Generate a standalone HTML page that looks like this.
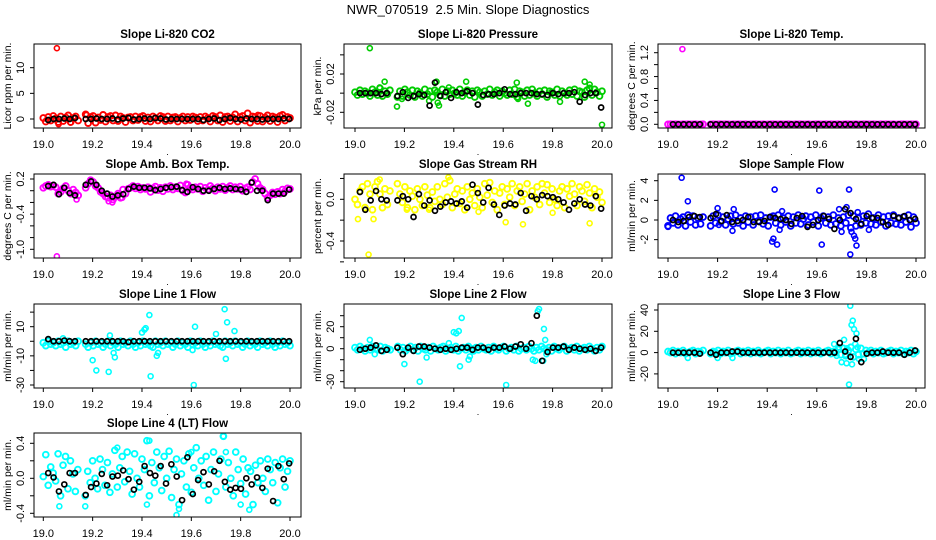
<!DOCTYPE html>
<html><head><meta charset="utf-8"><style>
html,body{margin:0;padding:0;background:#fff}
svg{display:block;font-family:"Liberation Sans",Arial,sans-serif}
</style></head><body>
<svg id="chart" width="936" height="540" viewBox="0 0 936 540">
<text x="468" y="14" text-anchor="middle" font-size="13" style="white-space:pre">NWR_070519  2.5 Min. Slope Diagnostics</text>
</svg>
<script>
// ---- data ----
const co2Band=[0.2,-0.5,0.4,-0.3,0.6,0.1,-0.6,0.5,-0.4,0.3,0.7,-0.6,0.2,0.5,-0.3,null,null,0.9,-0.8,0.4,0.6,-0.7,0.3,-0.2,0.8,-0.5,0.4,0.6,-0.3,0.7,-0.4,0.5,0.2,-0.6,0.3,0.4,-0.3,0.5,-0.2,0.4,0.6,-0.4,0.3,-0.5,0.5,0.2,-0.3,0.6,0.4,-0.4,0.5,-0.3,0.3,0.4,-0.5,0.2,0.5,-0.3,0.4,-0.2,0.5,0.3,-0.4,0.4,-0.3,0.5,0.2,-0.5,0.6,0.4,-0.3,0.7,-0.6,0.4,0.5,-0.4,0.3,0.9,-0.5,0.4,0.6,-0.3,1.1,-0.7,0.5,0.4,-0.4,0.6,-0.5,0.3,0.7,-0.4,0.5,0.3,-0.6,0.6,0.8,-0.3,0.4,0.2];
const co2OutT=[19.055,19.062,19.11,19.175,19.87];
const co2OutV=[13.8,-1.0,-0.7,0.8,0.8];
const co2Black=[-0.2,0.0,0.0,0.1,0.0,0.2,null,0.0,0.0,0.1,0.0,0.0,0.1,-0.1,0.1,0.2,-0.1,0.0,0.1,0.0,0.2,0.1,-0.1,0.0,0.0,0.0,0.0,0.0,0.0,-0.2,0.0,0.1,-0.2,0.0,0.2,0.0,-0.1,0.1,0.0,0.0,-0.1,0.0,0.0,0.0,0.1,0.0];

const presBand=[0.001,-0.002,0.003,-0.001,0.002,0.000,-0.003,0.004,0.001,-0.002,0.005,-0.003,0.002,-0.001,0.003,null,null,-0.004,0.002,-0.003,0.004,0.001,-0.002,0.003,-0.004,0.002,0.000,-0.003,0.004,-0.001,0.002,-0.004,0.003,0.001,-0.002,0.004,-0.003,0.002,-0.001,0.003,0.000,-0.002,0.004,-0.003,0.001,0.003,-0.002,0.002,-0.004,0.003,0.001,-0.003,0.002,-0.001,0.004,-0.002,0.001,0.003,-0.003,0.002,0.000,-0.002,0.003,-0.001,0.004,-0.004,0.002,0.001,-0.003,0.003,-0.002,0.004,0.000,-0.003,0.002,-0.001,0.003,-0.004,0.002,0.001,-0.002,0.004,-0.003,0.002,0.000,-0.002,0.003,-0.001,0.004,-0.003,0.002,0.001,-0.004,0.003,0.005,-0.002,0.004,0.001,-0.003,0.002];
const presOutT=[19.06,19.12,19.17,19.33,19.335,19.34,19.45,19.655,19.7,19.83,19.93,19.95,20.0,19.3,19.1,19.19,19.38,19.66];
const presOutV=[0.047,0.012,-0.014,0.012,-0.010,-0.013,0.012,0.011,-0.011,-0.009,0.012,0.009,-0.033,-0.008,0.006,-0.006,0.006,-0.006];
const presBlack=[0.000,0.000,0.000,0.000,-0.001,0.000,null,-0.003,0.001,-0.005,-0.003,-0.001,-0.002,-0.013,0.011,-0.003,0.001,-0.005,0.001,0.000,0.002,0.000,-0.012,-0.002,-0.001,-0.001,0.000,0.004,-0.001,-0.001,0.000,0.000,0.000,-0.001,-0.001,-0.002,0.000,-0.001,0.000,0.000,0.001,-0.009,-0.002,0.000,0.000,-0.015];

const tempBand=[0.000,0.002,-0.001,0.001,0.000,-0.002,0.001,0.000,0.002,-0.001,0.000,0.001,-0.002,0.000,0.001,null,null,0.000,0.002,-0.001,0.000,0.001,-0.001,0.002,0.000,-0.002,0.001,0.000,0.002,-0.001,0.000,0.001,-0.002,0.000,0.001,0.002,-0.001,0.000,0.001,-0.002,0.000,0.002,0.001,-0.001,0.000,0.002,-0.001,0.000,0.001,0.000,-0.002,0.001,0.000,0.002,-0.001,0.000,0.001,-0.002,0.000,0.001,0.002,-0.001,0.000,0.001,0.000,0.002,-0.001,0.000,0.001,-0.002,0.000,0.001,0.002,-0.001,0.000,0.001,-0.002,0.000,0.001,0.002,-0.001,0.000,0.001,0.000,-0.002,0.001,0.000,0.002,-0.001,0.000,0.001,-0.002,0.000,0.001,0.002,-0.001,0.000,0.001,0.000,0.001];
const tempOutT=[19.058];
const tempOutV=[1.26];
const tempBlack=[0,0,0,0,0,0,null,0,0,0,0,0,0,0,0,0,0,0,0,0,0,0,0,0,0,0,0,0,0,0,0,0,0,0,0,0,0,0,0,0,0,0,0,0,0,0];

const ambBand=[0.05,0.08,0.1,0.07,0.09,0.06,-0.05,-0.02,0.04,0.08,0.0,-0.05,0.02,-0.03,-0.08,null,null,0.05,0.12,0.18,0.15,0.08,0.05,-0.02,-0.05,-0.1,-0.12,-0.08,-0.15,-0.1,-0.05,-0.12,0.02,-0.05,0.03,0.05,0.08,0.04,0.07,0.02,0.05,0.03,0.06,-0.02,0.04,0.07,0.01,0.05,-0.01,0.06,0.03,0.08,0.02,0.06,0.04,0.09,0.0,-0.03,0.1,0.05,0.02,0.06,0.03,0.07,-0.01,0.05,0.02,0.08,0.04,0.0,0.06,0.03,0.07,0.01,0.05,0.08,0.02,0.06,0.03,0.07,0.0,0.04,0.06,0.02,0.15,0.2,0.12,0.05,0.02,-0.05,-0.12,-0.08,-0.03,-0.06,-0.02,-0.05,0.02,-0.01,0.04,0.03];
const ambOutT=[19.055,19.135,19.28,19.58,19.265,19.32];
const ambOutV=[-1.12,-0.15,-0.2,0.12,-0.18,-0.12];
const ambBlack=[0.08,0.1,-0.06,0.05,-0.04,-0.08,null,0.1,0.16,0.1,0.0,-0.05,-0.1,-0.08,-0.06,0.03,0.07,0.05,0.05,0.04,0.01,0.03,0.05,0.06,0.07,0.01,-0.02,0.06,0.03,0.0,0.0,0.03,0.05,0.03,0.04,0.03,0.02,-0.02,0.14,0.0,0.0,-0.16,-0.05,-0.05,-0.05,0.02];

const rhBand=[0.0,-0.05,0.08,0.12,-0.08,0.15,0.05,-0.1,0.12,0.17,0.05,-0.08,0.1,-0.05,0.08,null,null,0.15,0.05,-0.03,0.12,-0.08,0.08,0.03,-0.1,0.1,0.0,-0.06,0.12,0.04,-0.08,0.07,-0.02,0.12,0.0,-0.05,0.15,0.02,0.18,-0.08,0.05,0.1,-0.04,0.08,-0.1,0.12,0.0,0.06,-0.06,0.1,0.02,-0.08,0.15,0.04,0.16,-0.03,0.08,-0.1,0.06,0.12,-0.05,0.1,0.02,0.15,-0.06,0.08,0.12,-0.02,0.05,0.15,-0.1,0.08,0.02,0.12,-0.05,0.15,0.06,0.14,-0.03,0.1,0.0,-0.06,0.08,0.12,-0.08,0.1,0.03,0.15,0.05,-0.06,0.12,0.08,-0.02,0.14,0.06,-0.08,0.1,0.02,0.07,-0.03];
const rhOutT=[19.055,19.012,19.075,19.378,19.68,19.95,19.61,19.10,19.21,19.3,19.5,19.8];
const rhOutV=[-0.53,-0.19,-0.19,0.21,-0.24,-0.23,-0.22,0.19,-0.1,-0.1,-0.12,-0.13];
const rhBlack=[0.07,-0.1,-0.01,0.08,0.0,-0.01,null,-0.01,0.03,0.0,-0.17,0.05,-0.06,-0.01,-0.11,-0.07,-0.03,-0.02,-0.04,-0.02,-0.08,0.14,0.06,-0.03,0.11,-0.05,-0.15,-0.06,-0.04,-0.05,0.06,-0.11,0.03,0.0,0.04,0.03,0.02,0.0,-0.03,-0.1,-0.04,0.0,-0.05,-0.06,0.03,-0.09];

const sampBand=[-0.6,0.2,-0.3,0.4,-0.5,0.1,0.3,-0.6,0.5,-0.2,0.4,-0.5,0.2,-0.4,0.3,null,null,-0.6,0.4,-0.3,0.5,-0.2,0.3,-0.5,0.1,0.4,-0.4,0.5,-0.3,0.2,-0.6,0.4,-0.2,0.3,-0.5,0.4,-0.1,0.5,-0.4,0.2,-0.6,0.3,0.4,-0.3,0.5,-0.5,0.2,-0.2,0.4,-0.6,0.3,-0.3,0.5,-0.4,0.1,0.4,-0.5,0.3,-0.2,0.5,-0.6,0.2,0.4,-0.3,0.3,-0.5,0.5,-0.4,0.2,-0.6,0.3,-0.3,0.5,-0.8,0.4,-0.6,0.2,-0.5,0.4,-0.3,0.6,-0.4,0.2,-0.5,0.5,-0.2,0.3,-0.6,0.4,-0.3,0.5,-0.4,0.2,-0.5,0.3,-0.2,0.5,-0.7,0.3,-0.3];
const sampOutT=[19.055,19.08,19.2,19.205,19.26,19.265,19.42,19.425,19.43,19.44,19.45,19.46,19.61,19.62,19.69,19.70,19.72,19.73,19.735,19.75,19.755,19.76,19.81,19.74,19.765,19.0];
const sampOutV=[4.3,1.9,1.2,-0.5,-1.1,1.1,-2.2,-1.9,3.1,-2.5,-1.0,0.9,3.0,-2.5,1.1,-1.2,1.3,3.1,-3.5,-1.6,-1.9,-2.6,-1.0,-1.2,0.8,-0.7];
const sampBlack=[0.0,-0.2,-0.1,0.3,0.4,0.3,null,0.2,0.6,-0.1,0.5,-0.2,-0.1,0.0,0.3,-0.2,-0.2,-0.1,0.3,0.2,0.1,0.0,-0.4,0.2,0.4,-0.7,-0.5,0.0,0.4,0.1,-0.9,0.0,1.1,0.7,0.1,-0.4,0.4,0.2,0.2,-0.2,-0.5,0.4,0.2,0.4,0.0,0.1];

const l1Band=[-1,-3,0,-2,-1,-3,0,-2,-1,-4,0,-2,-1,-3,0,null,null,-2,-4,-1,-3,0,-2,-1,-4,-2,0,-3,-1,-2,-4,0,-2,-1,-3,0,-2,-4,-1,-3,0,-2,-1,-3,-4,0,-2,-1,-3,0,-2,-1,-4,-2,0,-3,-1,-2,-4,0,-2,-1,-3,0,-2,-4,-1,-3,0,-2,-1,-3,-4,0,-2,-1,-3,0,-2,-1,-4,-2,0,-3,-1,-2,-4,0,-2,-1,-3,0,-2,-4,-1,-3,0,-2,-1,-3];
const l1OutT=[19.2,19.215,19.265,19.27,19.285,19.29,19.4,19.41,19.415,19.43,19.435,19.46,19.465,19.61,19.615,19.7,19.735,19.74,19.745,19.775,19.605,19.08];
const l1OutV=[-13,-20,-21,4,-8,-11,6,8,9,18,-24,-10,-8,-30,10,5,22,-12,13,7,-6,2];
const l1Black=[1.5,0,0,0.5,0,0,null,0,0,0,0,0,0,0,0,-0.5,0,0,0,0,0,0,0,0,0,0,0,0,0,0,0,0,0,0,0,0,0,0,0,0,0,0,0,0,0,0];

const l2Band=[1,-1,2,0,-2,1,-1,2,0,-1,2,-2,1,0,-1,null,null,2,-1,1,-2,0,2,-1,1,-2,2,0,-1,1,-2,2,0,-1,1,2,-2,0,1,-1,2,-2,0,1,-1,2,0,-2,1,-1,2,0,-1,1,-2,2,0,-1,1,2,-2,0,1,-1,2,-2,0,1,-1,2,0,-2,1,-1,2,0,-1,1,-2,2,0,-1,1,2,-2,0,1,-1,2,-2,0,1,-1,2,0,-2,1,-1,2];
const l2OutT=[19.06,19.2,19.262,19.29,19.40,19.41,19.42,19.425,19.432,19.46,19.465,19.612,19.72,19.73,19.74,19.745,19.762,19.765,19.77,19.775,19.08,19.38];
const l2OutV=[8,-14,-30,-8,15,14,16,-16,28,-10,-7,-33,-10,-11,34,36,-11,18,8,-5,-5,5];
const l2Black=[-1,0,1,3,-2,-1,null,1,-5,1,-2,2,2,1,0,-1,0,-1,0,1,1,-1,1,1,-1,1,1,2,0,2,4,0,5,30,-11,-3,1,1,2,-1,1,0,-1,0,-2,1];

const l3Band=[1,0,2,-1,1,0,2,-1,0,1,2,-1,1,0,2,null,null,-1,1,0,2,-1,1,0,2,-1,0,1,2,-1,1,0,2,-1,1,0,2,-1,0,1,2,-1,1,0,2,-1,1,0,2,-1,0,1,2,-1,1,0,2,-1,1,0,2,-1,0,1,2,-1,1,0,3,-2,4,-3,2,5,-4,3,-2,4,-1,2,0,2,-1,1,0,2,-1,0,1,2,-1,1,0,2,-1,1,0,2,-1,1];
const l3OutT=[19.08,19.2,19.26,19.67,19.68,19.69,19.70,19.71,19.72,19.73,19.735,19.74,19.745,19.75,19.755,19.76,19.765,19.742,19.77,19.79,19.722,19.715];
const l3OutV=[-5,-5,-5,8,-3,5,-9,12,-10,-30,44,26,30,22,8,18,5,-11,-6,-6,4,-2];
const l3Black=[0,0,0,0,0,-1,null,0,-2,0,0,1,1,0,0,0,0,0,0,0,0,0,0,0,0,0,0,0,0,0,0,9,1,-4,13,-9,-1,0,0,1,0,0,0,-2,0,2];

const l4Band=[0.02,0.27,-0.08,0.13,0.06,-0.03,0.28,-0.2,0.15,0.25,-0.12,0.2,0.05,-0.15,0.1,null,null,-0.2,0.08,-0.05,0.2,0.0,-0.12,0.22,0.1,-0.08,0.18,-0.16,0.05,0.32,-0.1,0.12,0.25,-0.04,0.3,0.08,-0.18,0.28,0.0,-0.1,0.22,0.1,0.43,-0.2,0.18,-0.05,0.3,0.12,-0.14,0.25,0.0,0.31,-0.22,0.1,0.22,-0.3,0.05,0.2,-0.1,0.28,-0.16,0.12,0.35,0.0,0.2,-0.08,0.25,-0.25,0.1,0.3,-0.15,0.05,0.22,0.48,-0.1,0.18,0.0,-0.2,0.3,0.1,-0.06,0.22,-0.18,0.12,0.08,-0.3,0.15,-0.05,0.2,0.0,-0.15,0.22,0.1,-0.05,0.18,-0.28,0.12,0.22,-0.1,0.08,0.2];
const l4OutT=[19.065,19.17,19.43,19.54,19.55,19.73,19.74,19.835,19.42,19.6,19.3,19.8];
const l4OutV=[-0.32,-0.32,0.43,-0.42,-0.35,0.48,0.3,-0.36,-0.3,0.3,0.35,-0.3];
const l4Black=[0.06,0.01,-0.15,-0.07,0.06,0.06,null,-0.19,-0.1,-0.06,0.05,-0.08,0.02,0.03,0.09,-0.01,-0.13,-0.04,0.14,0.06,0.03,0.14,-0.06,0.16,0.02,-0.25,0.24,-0.18,-0.02,0.07,-0.07,0.08,0.2,-0.04,-0.13,-0.11,-0.12,0.0,-0.07,0.01,-0.11,0.11,-0.26,0.14,-0.01,0.17];

const xTicks=[19.0,19.2,19.4,19.6,19.8,20.0];
const xTickLabels=["19.0","19.2","19.4","19.6","19.8","20.0"];

// layout (not data)
const colBox=[[34,301,43.3,290],[344,612,355,602],[658,925,668,916]];
const rowTop=[44,174,304,433];
const boxH=84;

const panels=[
 {name:"co2",title:"Slope Li-820 CO2",ylab:"Licor ppm per min.",color:"#ff0000",col:0,row:0,cal:[0,119,10,67.7],ticks:[0,5,10],labels:["0","5","10"],band:co2Band,outT:co2OutT,outV:co2OutV,black:co2Black},
 {name:"pressure",title:"Slope Li-820 Pressure",ylab:"kPa per min.",color:"#00cc00",col:1,row:0,cal:[0.02,74,-0.02,112.3],ticks:[-0.02,0,0.02,0.04],labels:["-0.02","","0.02",""],band:presBand,outT:presOutT,outV:presOutV,black:presBlack},
 {name:"temp",title:"Slope Li-820 Temp.",ylab:"degrees C per min.",color:"#ff00ff",col:2,row:0,cal:[0,124.3,1.2,52.7],ticks:[0,0.2,0.4,0.6,0.8,1.0,1.2],labels:["0.0","","0.4","","0.8","","1.2"],band:tempBand,outT:tempOutT,outV:tempOutV,black:tempBlack},
 {name:"amb-box-temp",title:"Slope Amb. Box Temp.",ylab:"degrees C per min.",color:"#ff00ff",col:0,row:1,cal:[0.2,179,-1.0,249.3],ticks:[0.2,0,-0.2,-0.4,-0.6,-0.8,-1.0],labels:["0.2","","","-0.4","","","-1.0"],band:ambBand,outT:ambOutT,outV:ambOutV,black:ambBlack},
 {name:"gas-rh",title:"Slope Gas Stream RH",ylab:"percent per min.",color:"#ffff00",col:1,row:1,cal:[0,199.3,-0.4,241],ticks:[0.2,0,-0.2,-0.4,-0.6],labels:["","0.0","","-0.4",""],band:rhBand,outT:rhOutT,outV:rhOutV,black:rhBlack},
 {name:"sample-flow",title:"Slope Sample Flow",ylab:"ml/min per min.",color:"#0000ff",col:2,row:1,cal:[4,180.7,0,220],ticks:[4,2,0,-2],labels:["4","2","0","-2"],band:sampBand,outT:sampOutT,outV:sampOutV,black:sampBlack},
 {name:"line1-flow",title:"Slope Line 1 Flow",ylab:"ml/min per min.",color:"#00ffff",col:0,row:2,cal:[10,326.7,-30,385],ticks:[20,10,0,-10,-20,-30],labels:["","10","","-10","","-30"],band:l1Band,outT:l1OutT,outV:l1OutV,black:l1Black},
 {name:"line2-flow",title:"Slope Line 2 Flow",ylab:"ml/min per min.",color:"#00ffff",col:1,row:2,cal:[20,326.7,-30,381.7],ticks:[30,20,10,0,-10,-20,-30],labels:["","20","","0","","","-30"],band:l2Band,outT:l2OutT,outV:l2OutV,black:l2Black},
 {name:"line3-flow",title:"Slope Line 3 Flow",ylab:"ml/min per min.",color:"#00ffff",col:2,row:2,cal:[40,310,0,352.6],ticks:[40,20,0,-20],labels:["40","20","0","-20"],band:l3Band,outT:l3OutT,outV:l3OutV,black:l3Black},
 {name:"line4-flow",title:"Slope Line 4 (LT) Flow",ylab:"ml/min per min.",color:"#00ffff",col:0,row:3,cal:[0.4,443.3,-0.4,513.3],ticks:[0.4,0.2,0,-0.2,-0.4],labels:["0.4","","0.0","","-0.4"],band:l4Band,outT:l4OutT,outV:l4OutV,black:l4Black}
];

const NS="http://www.w3.org/2000/svg";
const svg=document.getElementById('chart');
function mk(tag,attrs,parent){const e=document.createElementNS(NS,tag);for(const k in attrs)e.setAttribute(k,attrs[k]);parent.appendChild(e);return e;}

panels.forEach(p=>{
  const [bx0,bx1,x19,x20]=colBox[p.col];
  const by0=rowTop[p.row], by1=by0+boxH;
  const xs=t=>x19+(t-19)*(x20-x19);
  const [v1,p1,v2,p2]=p.cal;
  const ys=v=>p1+(v-v1)*(p2-p1)/(v2-v1);
  const g=mk('g',{},svg);
  
  
  const clip=mk('clipPath',{id:'clip-'+p.name},g);
  mk('rect',{x:bx0,y:by0,width:bx1-bx0,height:by1-by0},clip);
  const t=mk('text',{x:(bx0+bx1)/2,y:by0-6,'text-anchor':'middle','font-size':11.5,'font-weight':'bold'},g);
  t.textContent=p.title;
  
  
  const pts=mk('g',{'clip-path':'url(#clip-'+p.name+')',fill:'none'},g);
  
  
  p.band.forEach((v,i)=>{
    if(v===null)return;
    const tm=19+i*(1/(p.band.length-1));
    const c=mk('circle',{cx:xs(tm),cy:ys(v),r:2.9,stroke:p.color,'stroke-width':1.9},pts);
    
    
  });
  p.outT.forEach((tm,i)=>{
    const c=mk('circle',{cx:xs(tm),cy:ys(p.outV[i]),r:2.5,stroke:p.color,'stroke-width':1.6},pts);
    
    
  });
  p.black.forEach((v,k)=>{
    if(v===null)return;
    const tm=19.02+k*0.0217;
    const c=mk('circle',{cx:xs(tm),cy:ys(v),r:2.5,stroke:'#000','stroke-width':1.7},pts);
    
    
  });
  const b=mk('rect',{x:bx0,y:by0,width:bx1-bx0,height:by1-by0,fill:'none',stroke:'#000','stroke-width':1},g);
  
  
  xTicks.forEach((tv,i)=>{
    const x=xs(tv);
    mk('line',{x1:x,x2:x,y1:by1,y2:by1+4,stroke:'#000'},g);
    const l=mk('text',{x:x,y:by1+20,'text-anchor':'middle','font-size':11},g);
    l.textContent=xTickLabels[i];
    
    
  });
  const d=mk('text',{x:(bx0+bx1)/2,y:by1+27,'text-anchor':'middle','font-size':9},g);
  d.textContent='.';
  
  
  p.ticks.forEach((tv,i)=>{
    const y=ys(tv);
    mk('line',{x1:bx0-4,x2:bx0,y1:y,y2:y,stroke:'#000'},g);
    if(p.labels[i]){
      const l=mk('text',{x:0,y:0,'text-anchor':'middle','font-size':11,transform:`translate(${bx0-10},${y}) rotate(-90)`},g);
      l.textContent=p.labels[i];
      
      
    }
  });
  const yl=mk('text',{x:0,y:0,'text-anchor':'middle','font-size':10.5,transform:`translate(${bx0-23},${(by0+by1)/2}) rotate(-90)`},g);
  yl.textContent=p.ylab;
  
  
});
</script>
</body></html>
